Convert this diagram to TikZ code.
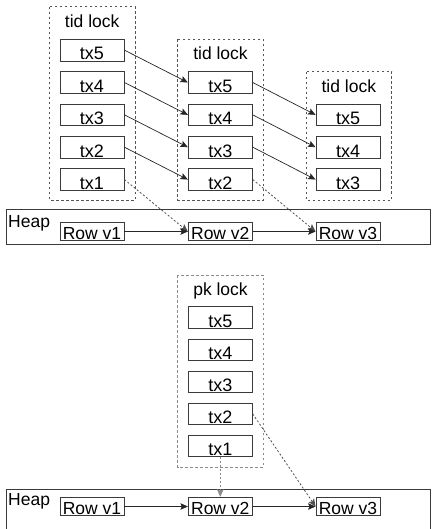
\documentclass[tikz,border=0pt]{standalone}
\usepackage{fontspec}
\setmainfont{Liberation Sans}
\usetikzlibrary{arrows.meta}
\definecolor{boxline}{HTML}{3A3A3A}
\definecolor{frameline}{HTML}{555555}
\definecolor{pkframe}{HTML}{8A8A8A}
\definecolor{dashline}{HTML}{505050}
\tikzset{
  txbox/.style={draw=boxline, line width=0.9pt, minimum width=64pt, inner xsep=0pt, inner ysep=1pt,
    text height=19.7pt, text depth=0pt, font=\fontsize{18}{20}\selectfont},
  rowbox/.style={draw=boxline, line width=0.9pt, minimum width=64pt, inner xsep=0pt, inner ysep=1pt,
    text height=16.5pt, text depth=0pt, font=\fontsize{17.5}{20}\selectfont},
  tidframe/.style={draw=frameline, line width=0.9pt, dash pattern=on 2.5pt off 2.5pt},
  pkframe/.style={draw=pkframe, line width=1pt, dash pattern=on 2.5pt off 2.5pt},
  heapbox/.style={draw=boxline, line width=0.9pt},
  lbl/.style={anchor=base, inner sep=0pt, font=\fontsize{17.5}{20}\selectfont},
  link/.style={draw=black!85, line width=0.7pt, -{Stealth[length=7.5pt,width=6.5pt,inset=1.5pt]}},
  dlink/.style={draw=dashline, line width=0.8pt, dash pattern=on 2pt off 2pt, -{Stealth[length=7.5pt,width=6.5pt,inset=1.5pt]}}
}
\begin{document}
\begin{tikzpicture}[x=1pt,y=-1pt]
\useasboundingbox (0,0) rectangle (431,529);
\clip (0,0) rectangle (431,529);
\fill[white] (0,0) rectangle (431,529);

% ---------- top: tid locks ----------
\draw[tidframe] (49.3,6.7) rectangle (135,200);
\node[lbl] (t1) at (92.2,27.3) {tid lock};
\draw[tidframe] (177.7,39.3) rectangle (263.3,200);
\node[lbl] (t2) at (220.5,60) {tid lock};
\draw[tidframe] (306,71.7) rectangle (391.7,200);
\node[lbl] (t3) at (348.8,92.3) {tid lock};

% column 1
\node[txbox] (a5) at (92,50.15) {tx5};
\node[txbox] (a4) at (92,82.5) {tx4};
\node[txbox] (a3) at (92,114.85) {tx3};
\node[txbox] (a2) at (92,147.2) {tx2};
\node[txbox] (a1) at (92,179.55) {tx1};
% column 2
\node[txbox] (b5) at (220.3,82.5) {tx5};
\node[txbox] (b4) at (220.3,114.85) {tx4};
\node[txbox] (b3) at (220.3,147.2) {tx3};
\node[txbox] (b2) at (220.3,179.55) {tx2};
% column 3
\node[txbox] (c5) at (348,114.85) {tx5};
\node[txbox] (c4) at (348,147.2) {tx4};
\node[txbox] (c3) at (348,179.55) {tx3};

% heap 1
\draw[heapbox] (6,209.3) rectangle (430.3,244);
\node[lbl, anchor=base west] (h1) at (8,227) {Heap};
\node[rowbox] (r1) at (92,231.5) {Row v1};
\node[rowbox] (r2) at (220.3,231.5) {Row v2};
\node[rowbox] (r3) at (348,231.5) {Row v3};

\draw[link] (a5.east) -- (b5.west);
\draw[link] (a4.east) -- (b4.west);
\draw[link] (a3.east) -- (b3.west);
\draw[link] (a2.east) -- (b2.west);
\draw[link] (b5.east) -- (c5.west);
\draw[link] (b4.east) -- (c4.west);
\draw[link] (b3.east) -- (c3.west);
\draw[dlink] (a1.east) -- (r2.west);
\draw[dlink] (b2.east) -- (r3.west);
\draw[link] (r1.east) -- (r2.west);
\draw[link] (r2.east) -- (r3.west);

% ---------- bottom: pk lock ----------
\draw[pkframe] (177.7,275) rectangle (263.3,467.3);
\node[lbl] (p0) at (220.5,295.5) {pk lock};
\node[txbox] (p5) at (220.3,317.5) {tx5};
\node[txbox] (p4) at (220.3,349.8) {tx4};
\node[txbox] (p3) at (220.3,381.9) {tx3};
\node[txbox] (p2) at (220.3,413.9) {tx2};
\node[txbox] (p1) at (220.3,445.9) {tx1};

\draw[heapbox] (6,489) rectangle (430.3,540);
\node[lbl, anchor=base west] (h2) at (8,505.5) {Heap};
\node[rowbox] (s1) at (92,506.5) {Row v1};
\node[rowbox] (s2) at (220.3,506.5) {Row v2};
\node[rowbox] (s3) at (348,506.5) {Row v3};

\draw[link] (s1.east) -- (s2.west);
\draw[link] (s2.east) -- (s3.west);
\draw[dlink, draw=pkframe] (p1.south) -- (s2.north);
\draw[dlink] (p2.east) -- (s3.west);
\end{tikzpicture}
\end{document}
